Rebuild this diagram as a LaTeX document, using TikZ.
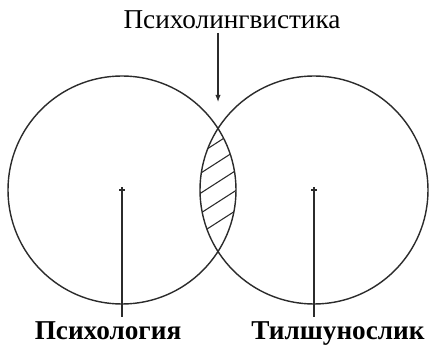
\documentclass[tikz,border=0pt]{standalone}
\usepackage{fontspec}
\setmainfont{Liberation Serif}
\usetikzlibrary{arrows.meta,positioning}
\definecolor{InkGray}{HTML}{2B2B2B}

\begin{document}
\begin{tikzpicture}[>=Latex, x=0.02cm, y=-0.02cm,
    field/.style={draw=InkGray, line width=0.8pt},
    pointer/.style={draw=InkGray, line width=0.6pt},
    hatch/.style={draw=InkGray, line width=0.6pt},
    title/.style={font=\fontsize{15.5}{17}\selectfont, inner sep=2pt},
    sciname/.style={font=\fontsize{15.5}{17}\selectfont\bfseries, inner sep=2pt, anchor=base}]
  \useasboundingbox[fill=white] (0,0) rectangle (429,347);
  % circle centres
  \coordinate (lc) at (122,190);
  \coordinate (rc) at (314,190);
  \coordinate (gap) at (218,102);
  \draw[field] (lc) circle (114);
  \draw[field] (rc) circle (114);
  % shaded overlap
  \begin{scope}
    \clip (lc) circle (114);
    \clip (rc) circle (114);
    \foreach \yc in {142,162,182,202,222}
      \draw[hatch] (190,\yc+18) -- (246,\yc-18);
  \end{scope}
  % centre marks
  \foreach \c in {lc,rc}
    \draw[pointer] ([xshift=-0.06cm]\c) -- ([xshift=0.06cm]\c)
                   ([yshift=-0.06cm]\c) -- ([yshift=0.06cm]\c);
  % labels
  \node[title] (pl) at (232,20) {Психолингвистика};
  \node[sciname] (psy) at (108,339) {Психология};
  \node[sciname] (lin) at (338,339) {Тилшунослик};
  \draw[pointer,-{Latex[length=4pt,width=3pt]}] (pl.south -| gap) -- (gap);
  \draw[pointer] (lc) -- (lc |- psy.north);
  \draw[pointer] (rc) -- (rc |- lin.north);
\end{tikzpicture}
\end{document}
